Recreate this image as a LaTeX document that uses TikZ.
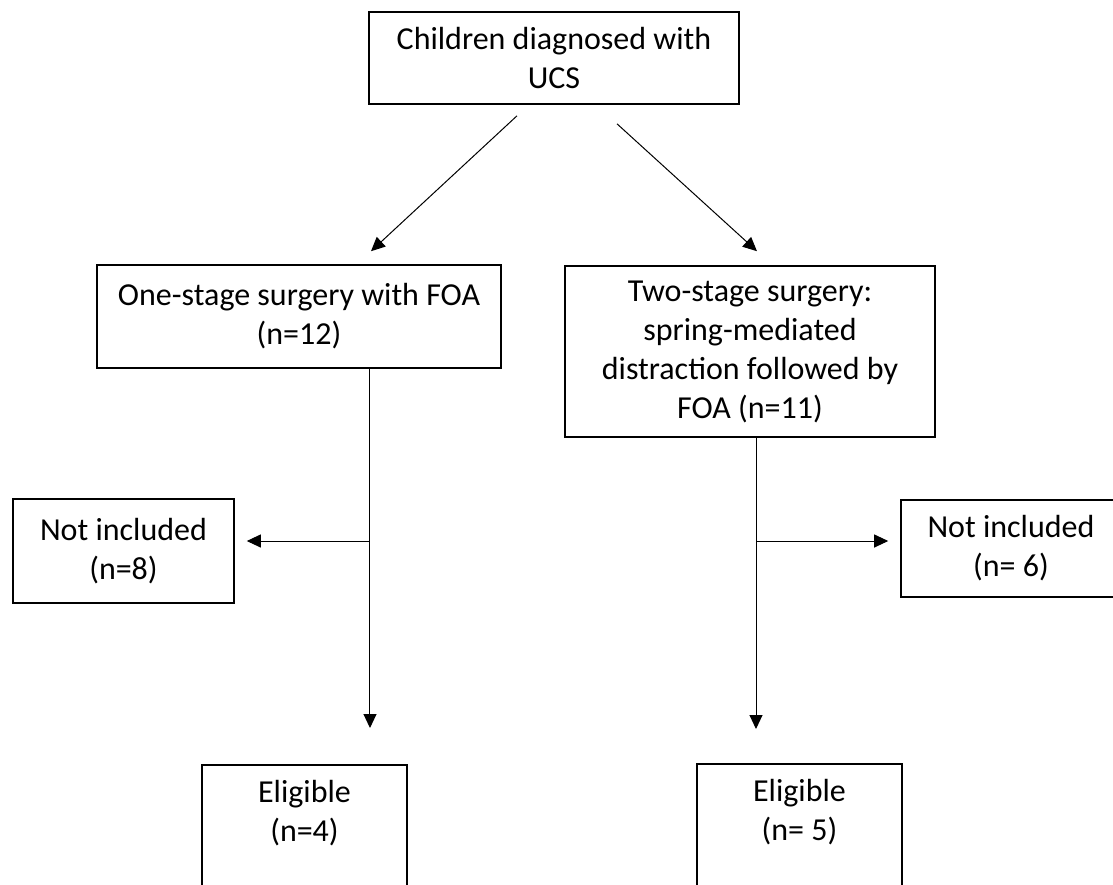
\documentclass[tikz,border=0pt]{standalone}
\usepackage{fontspec}
\setmainfont{Carlito}
\usepackage{tikz}
\usetikzlibrary{arrows.meta}
\usetikzlibrary{positioning}
\tikzset{
    font={\fontsize{16pt}{19.5pt}\selectfont},
    box/.style={
           rectangle,
           draw=black, line width=0.8pt,
           inner sep=6pt,
           text centered,
           align=center,
           },
}
\begin{document}
\begin{tikzpicture}[->,>={Triangle[length=7pt,width=6.5pt]},line width=0.5pt]

\useasboundingbox (-277pt,29pt) rectangle (279.5pt,-413pt);

\node[box,minimum width=185pt,minimum height=46pt] (CHILDREN) {Children diagnosed with\\UCS};

% State: the two surgery groups
\node[box, below of=CHILDREN, node distance=129.25pt, xshift=-127.5pt, anchor=center, minimum width=202pt, minimum height=51.5pt] (ONESTAGE) {%
One-stage surgery with FOA\\(n=12)};

\node[box, below of=CHILDREN, node distance=146.75pt, xshift=98pt, anchor=center, minimum width=185pt, minimum height=85.5pt] (TWOSTAGE) {%
Two-stage surgery:\\spring-mediated\\distraction followed by\\FOA (n=11)};

% State: not included
\node[box, below of=ONESTAGE, node distance=117.25pt, xshift=-87.75pt, anchor=center, minimum width=110.5pt, minimum height=52pt] (NOTINCLONE) {%
Not included\\(n=8)};

\node[box, below of=TWOSTAGE, node distance=98.5pt, xshift=130.5pt, anchor=center, minimum width=110pt, minimum height=48.5pt] (NOTINCLTWO) {%
Not included\\(n= 6)};

% State: eligible
\node[box, below of=ONESTAGE, node distance=223.75pt, xshift=2.75pt, anchor=north, minimum width=102.5pt, minimum height=66pt] (ELIGONE) {%
Eligible\\(n=4)\\ \mbox{}};

\node[box, below of=TWOSTAGE, node distance=205.75pt, xshift=24.75pt, anchor=north, minimum width=102.5pt, minimum height=66pt] (ELIGTWO) {%
Eligible\\(n= 5)\\ \mbox{}};

\coordinate[xshift=-18.5pt, yshift=-5.5pt] (SPLITL) at (CHILDREN.south);
\coordinate[xshift=31.5pt, yshift=-9.5pt] (SPLITR) at (CHILDREN.south);
\coordinate[xshift=36pt, yshift=6.5pt] (ONETOP) at (ONESTAGE.north);
\coordinate[xshift=3.5pt, yshift=7pt] (TWOTOP) at (TWOSTAGE.north);
\coordinate[xshift=35.5pt] (ONEDOWN) at (ONESTAGE.south);
\coordinate[xshift=3pt] (TWODOWN) at (TWOSTAGE.south);
\coordinate[yshift=5pt] (ONEBRANCH) at (NOTINCLONE.east -| ONEDOWN);
\coordinate[yshift=3.75pt] (TWOBRANCH) at (NOTINCLTWO.west -| TWODOWN);

\path (SPLITL)    edge (ONETOP)
(SPLITR)          edge (TWOTOP)
(ONEDOWN)         edge[shorten >=18pt] (ONEDOWN |- ELIGONE.north)
(ONEBRANCH)       edge[shorten >=6pt]  (ONEBRANCH -| NOTINCLONE.east)
(TWODOWN)         edge[shorten >=17pt] (TWODOWN |- ELIGTWO.north)
(TWOBRANCH)       edge[shorten >=6pt]  (TWOBRANCH -| NOTINCLTWO.west);

\end{tikzpicture}
\end{document}
